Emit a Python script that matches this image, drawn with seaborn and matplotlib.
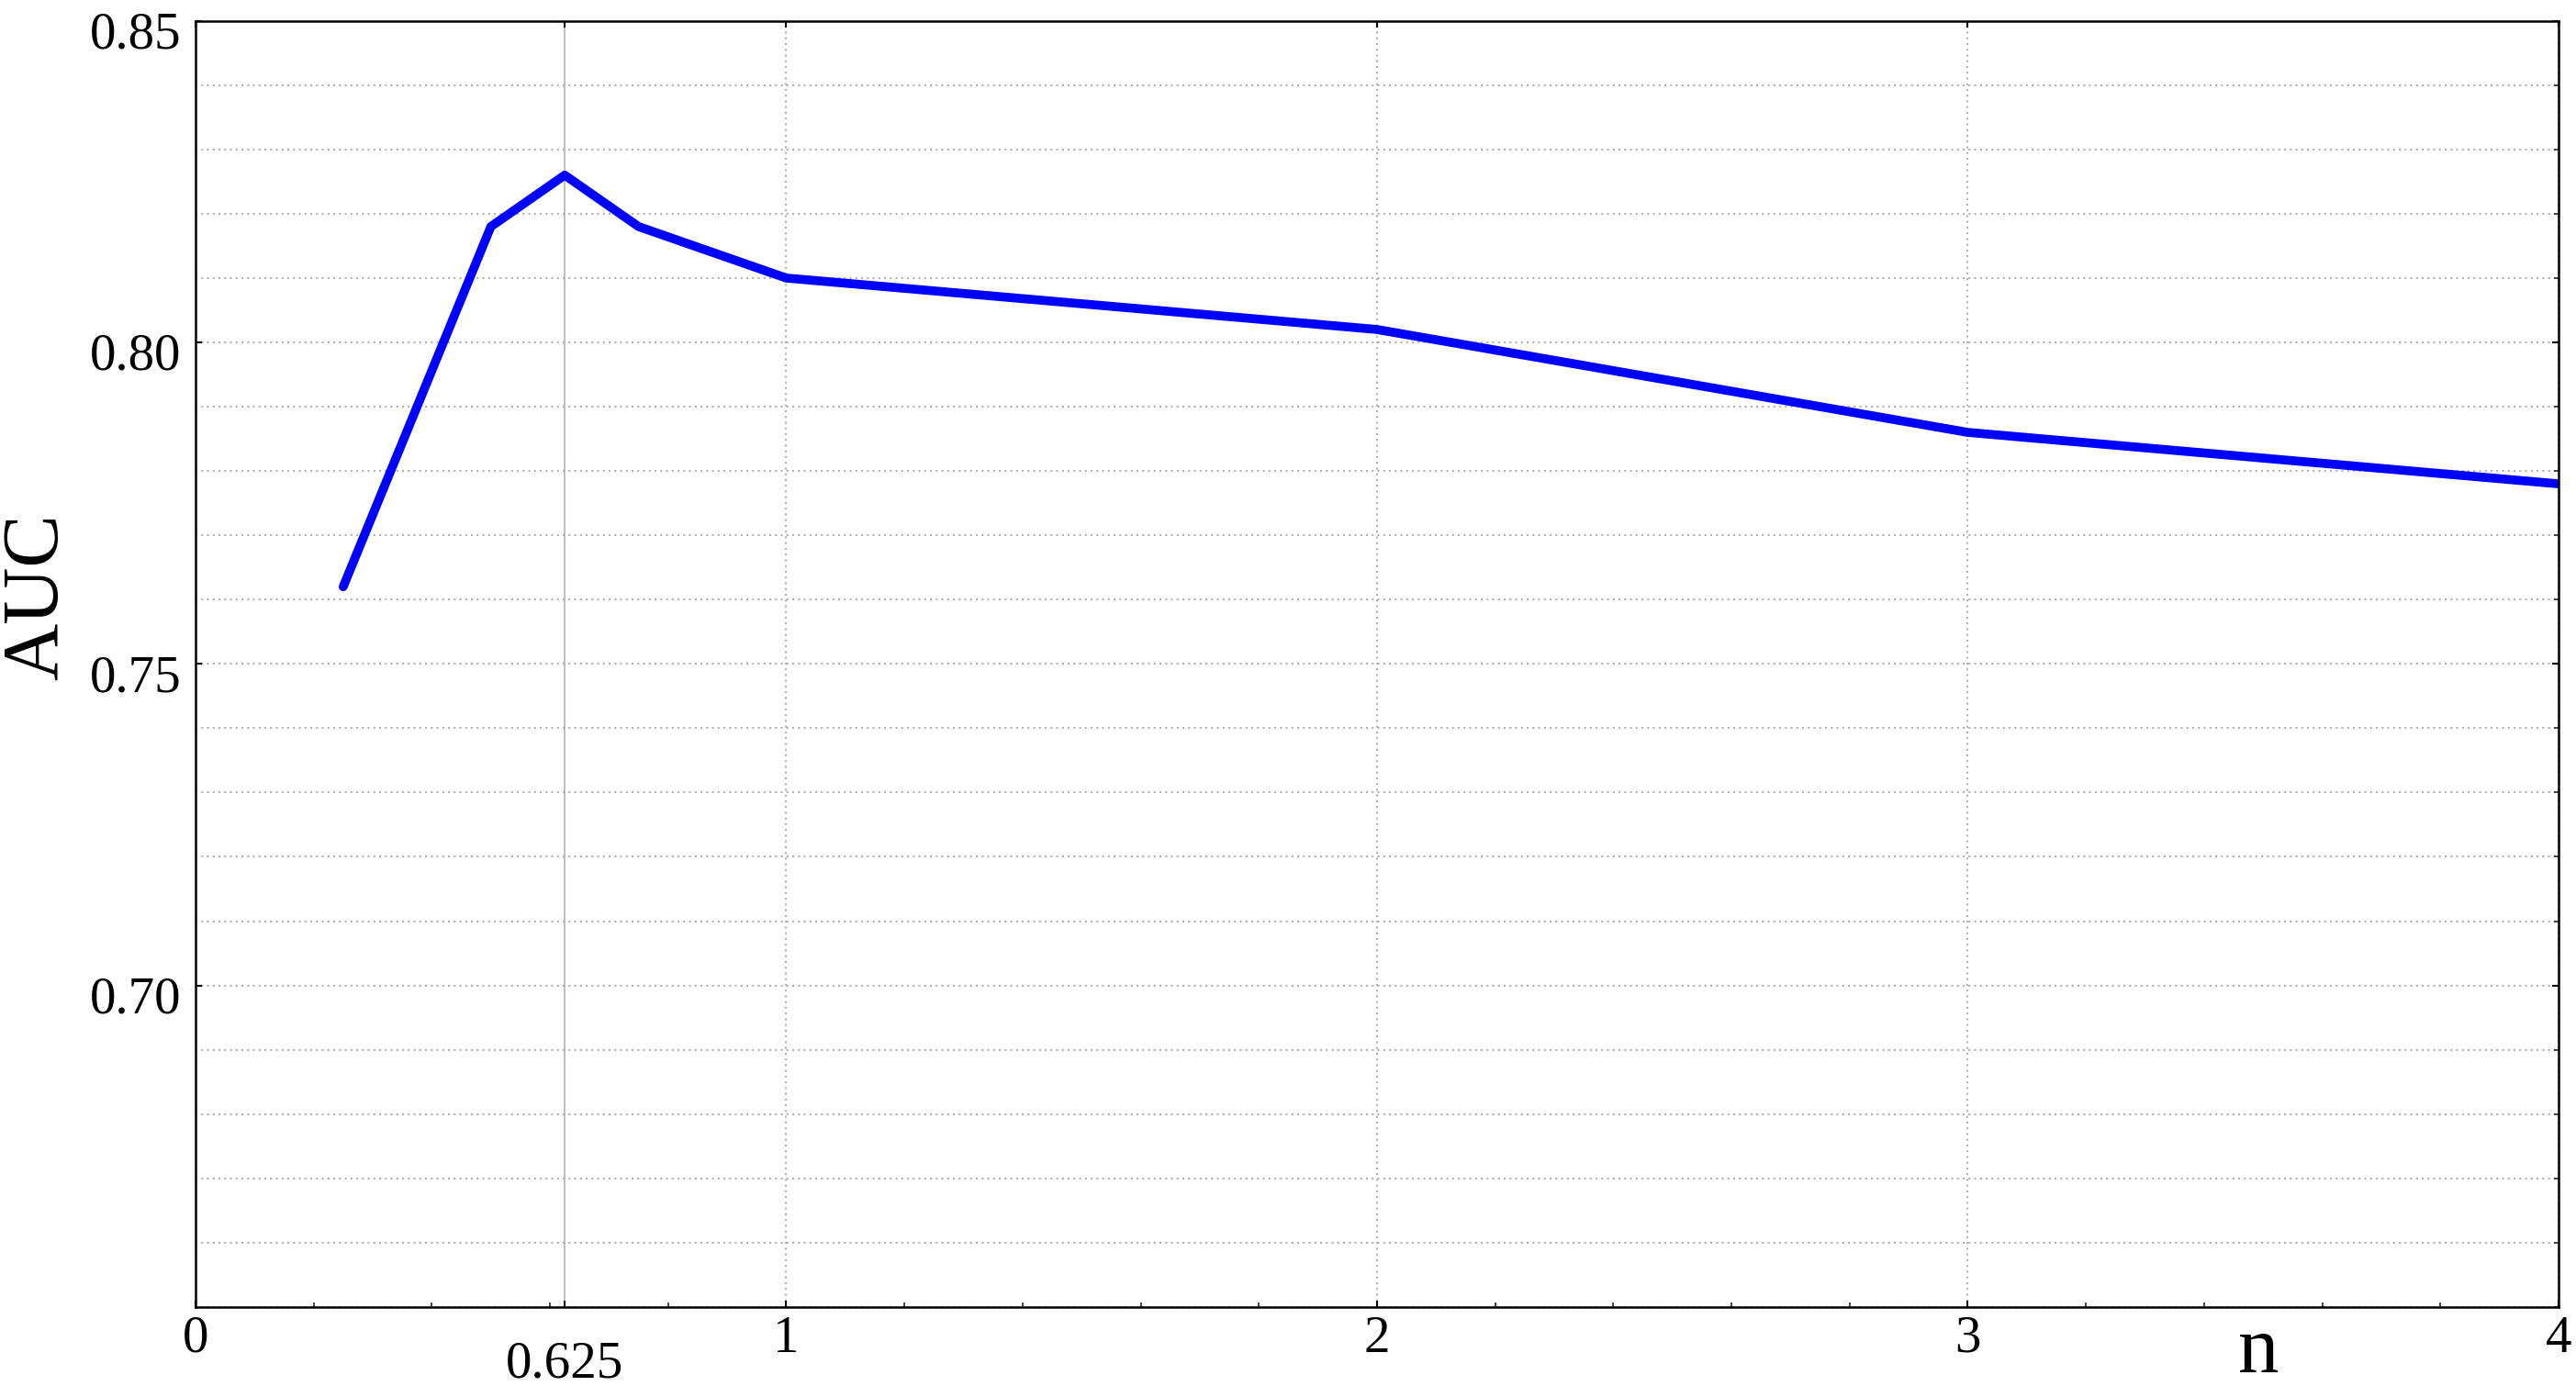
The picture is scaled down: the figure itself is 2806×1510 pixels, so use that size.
import numpy as np
import pandas as pd
import matplotlib
matplotlib.use("Agg")
import matplotlib.pyplot as plt
import matplotlib.transforms as mtransforms
from matplotlib.ticker import MultipleLocator
import seaborn as sns

# values
n_values = [0.25, 0.5, 0.625, 0.75, 1, 2, 3, 4]
auc_values = [0.762, 0.818, 0.826, 0.818, 0.810, 0.802, 0.786, 0.778]
x_ticks = [0, 0.625, 1, 2, 3, 4]
x_tick_labels = ["0", "0.625", "1", "2", "3", "4"]
y_ticks = [0.70, 0.75, 0.80, 0.85]
y_tick_labels = ["0.70", "0.75", "0.80", "0.85"]

df = pd.DataFrame({"n": n_values, "AUC": auc_values})

sns.set_style("ticks")
plt.rcParams["font.family"] = ["Liberation Serif", "DejaVu Serif"]

fig = plt.figure(figsize=(28.06, 15.10), dpi=100)
ax = fig.add_axes([0.0759, 0.057, 0.9173, 0.928])

sns.lineplot(data=df, x="n", y="AUC", color="#0000ff", linewidth=7, ax=ax)

ax.set_xlim(0, 4)
ax.set_ylim(0.65, 0.85)
ax.set_xticks(x_ticks)
ax.set_xticklabels(x_tick_labels)
ax.set_yticks(y_ticks)
ax.set_yticklabels(y_tick_labels)
ax.xaxis.set_minor_locator(MultipleLocator(0.2))
ax.yaxis.set_minor_locator(MultipleLocator(0.01))

for s in ax.spines.values():
    s.set_visible(True)
    s.set_linewidth(1.8)
    s.set_color("black")

ax.tick_params(which="major", direction="in", length=5, width=1.5,
               labelsize=41, top=True, right=True, colors="black")
ax.tick_params(axis="x", which="major", pad=6.5)
ax.tick_params(axis="y", which="major", pad=11)
ax.tick_params(axis="x", which="minor", direction="in", length=3.5, width=1.2,
               bottom=True, top=False)
ax.tick_params(axis="y", which="minor", direction="in", length=3.5, width=1.2,
               left=False, right=True)

# grid: dotted for majors/minors, solid light line at the optimum n
grid_kw = dict(color="#b0b0b0", linestyle=(0, (1, 2)), linewidth=1.5)
ax.grid(axis="y", which="both", **grid_kw)
ax.grid(axis="x", which="major", **grid_kw)
ax.grid(axis="x", which="minor", visible=False)
opt_tick = ax.xaxis.get_major_ticks()[1]
opt_tick.gridline.set_linestyle("-")
opt_tick.gridline.set_color("#c0c0c0")
opt_tick.set_pad(26)

# y tick labels sit a little below their ticks
offset = mtransforms.ScaledTranslation(0, -10 / 100, fig.dpi_scale_trans)
for lbl in ax.get_yticklabels():
    lbl.set_transform(lbl.get_transform() + offset)

ax.set_ylabel("AUC", fontsize=62, color="black")
ax.yaxis.label.set_va("center")
ax.yaxis.set_label_coords(-0.0665, 0.552)
ax.set_xlabel("n", fontsize=64, color="black")
ax.xaxis.label.set_va("baseline")
ax.xaxis.set_label_coords(0.873, -0.051)

fig.savefig("out.png", dpi=100, facecolor="white")
